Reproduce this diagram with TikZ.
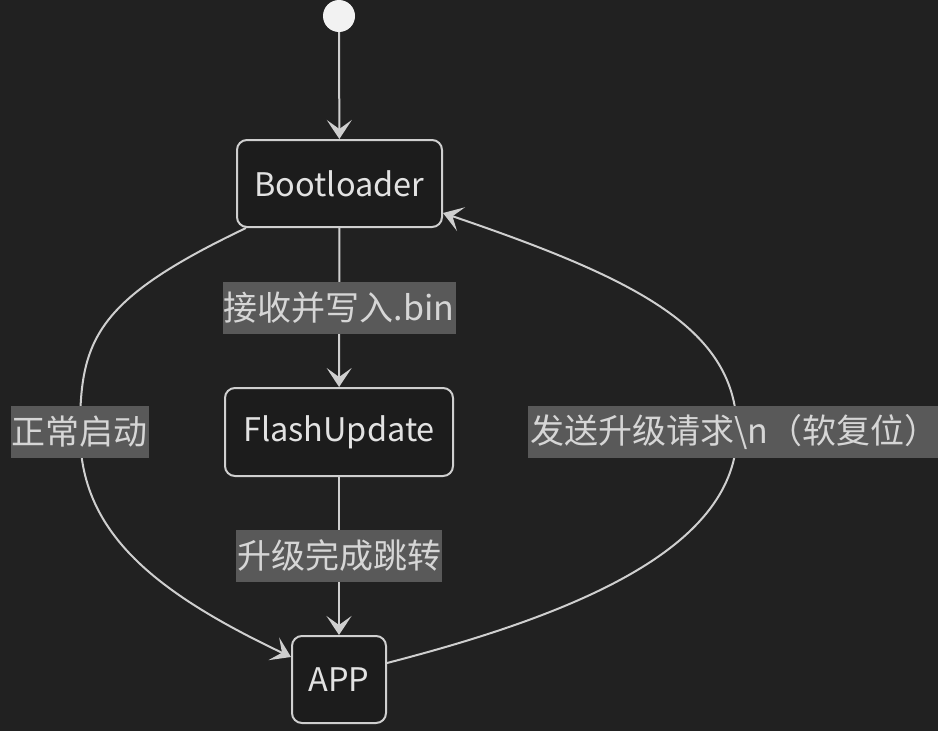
\documentclass[tikz,border=0pt]{standalone}
\usepackage{fontspec}
\setmainfont{Noto Sans CJK SC}
\usetikzlibrary{arrows.meta}
\definecolor{bgc}{HTML}{212121}
\definecolor{boxfill}{HTML}{1C1C1C}
\definecolor{linec}{HTML}{CFCFCF}
\definecolor{lblfill}{HTML}{595959}
\definecolor{txtc}{HTML}{E2E2E2}
\definecolor{lbltxt}{HTML}{D6D6D6}
\begin{document}
\begin{tikzpicture}[x=1pt,y=-1pt,
  state/.style={draw=linec, line width=2pt, fill=boxfill, rounded corners=10pt,
    text=txtc, font=\fontsize{32.5}{38}\selectfont, inner sep=0pt},
  lbl/.style={fill=lblfill, text=lbltxt, font=\fontsize{34}{40}\selectfont,
    inner xsep=1pt, inner ysep=0pt, minimum height=52pt},
  edge/.style={draw=linec, line width=2pt,
    -{Stealth[length=19pt,width=25pt,inset=9pt]}}]
\fill[bgc] (0,0) rectangle (938,731);
\useasboundingbox (0,0) rectangle (938,731);

\node[circle, fill=white!95!black, minimum size=32pt, inner sep=0pt] (start) at (339,16) {};
\node[state, minimum width=205pt, minimum height=87pt] (boot) at (339.5,183.5) {Bootloader};
\node[state, minimum width=228pt, minimum height=88pt] (flash) at (339,432) {FlashUpdate};
\node[state, minimum width=94pt, minimum height=87pt] (app) at (339,679.5) {APP};

\draw[edge] (start) -- (boot);
\draw[edge] (boot) -- node[lbl] (lrecv) {接收并写入.bin} (flash);
\draw[edge] (flash) -- node[lbl] (ldone) {升级完成跳转} (app);

\draw[edge] ([xshift=10pt]boot.south west) .. controls (95,300) and (80,340) .. (80,432)
  node[lbl] (lnorm) {正常启动}
  .. controls (80,530) and (150,590) .. ([yshift=-22pt]app.north west);

\draw[edge] ([yshift=-28pt]app.north east) .. controls (585,612) and (737,545) .. (737,432)
  node[lbl, xshift=-4pt, minimum width=410pt, text width=406pt, align=left] (lsoft) {发送升级请求\textbackslash n（软复位）}
  .. controls (737,330) and (640,280) .. ([yshift=15pt]boot.south east);
\end{tikzpicture}
\end{document}
